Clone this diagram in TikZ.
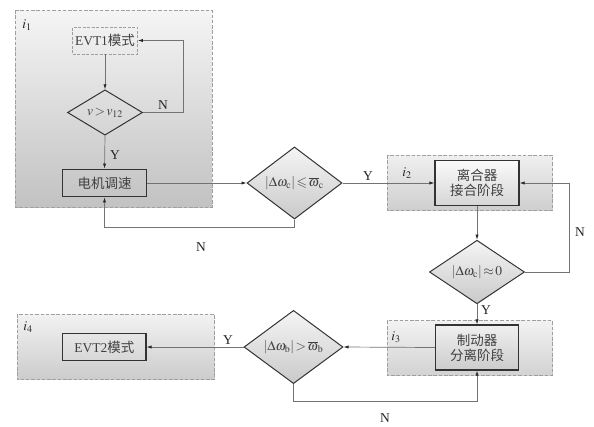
\documentclass[tikz,border=0pt]{standalone}
\usepackage{mathptmx}
\usepackage{amssymb}
\usepackage{fontspec}
\setmainfont{Liberation Serif}
\newfontfamily\cjk{Noto Sans CJK SC}
\usetikzlibrary{shapes.geometric,arrows.meta}
\definecolor{txt}{gray}{0.25}
\definecolor{lnc}{gray}{0.45}
\tikzset{
  every node/.style={font=\fontsize{13.5}{16}\selectfont},
  grp/.style={draw=gray!75, line width=0.8pt, dash pattern=on 3.5pt off 1.8pt},
  procbox/.style={draw=black!80, line width=1.2pt, inner sep=0pt, text=txt, align=center},
  dashbox/.style={draw=gray!75, line width=0.8pt, dash pattern=on 3pt off 1.5pt, inner sep=0pt, text=txt},
  dec/.style={diamond, aspect=1, inner sep=0pt, draw=black!80, line width=1pt, text=txt},
  conn/.style={draw=lnc, line width=0.7pt, -{Latex[length=5pt,width=3.2pt,color=black!85]}},
  line/.style={draw=lnc, line width=0.7pt},
  lbl/.style={text=black!85, inner sep=0pt},
}
\begin{document}
\begin{tikzpicture}[x=1pt,y=-1pt]
\useasboundingbox (0,0) rectangle (594,426);
% group boxes
\path[grp, top color=gray!8, bottom color=gray!48] (15,10) rectangle (212,207);
\node[lbl] (i1) at (27,25) {$i_1$};
\path[grp, top color=gray!12, bottom color=gray!38] (387,155) rectangle (552.7,210);
\node[lbl] (i2) at (407,173) {$i_2$};
\path[grp, top color=gray!10, bottom color=gray!35] (387,320.7) rectangle (552.7,375);
\node[lbl] (i3) at (396,337) {$i_3$};
\path[grp, top color=gray!10, bottom color=gray!40] (17,314) rectangle (214.3,379.3);
\node[lbl] (i4) at (28,327) {$i_4$};
% nodes
\node[dashbox, minimum width=65pt, minimum height=27pt] (evt1) at (105,40.5) {EVT1{\cjk 模式}};
\node[dec, minimum width=75pt, minimum height=45pt] (d1) at (105,112.5) {$v\!>\!v_{12}$};
\node[procbox, minimum width=83.5pt, minimum height=27.5pt] (motor) at (104.5,183) {\cjk 电机调速};
\node[dec, top color=gray!8, bottom color=gray!42, minimum width=95pt, minimum height=56pt] (d2) at (294.5,183) {$\left|\Delta\omega_{\mathrm{c}}\right|\!\leqslant\!\overline{\omega}_{\mathrm{c}}$};
\node[procbox, top color=gray!4, bottom color=gray!32, minimum width=84pt, minimum height=44.3pt] (clutch) at (477,183) {\cjk 离合器\\[-1pt]\cjk 接合阶段};
\node[dec, top color=gray!8, bottom color=gray!42, minimum width=95pt, minimum height=49pt] (d3) at (477,272) {$\left|\Delta\omega_{\mathrm{c}}\right|\!\approx\!0$};
\node[procbox, top color=gray!12, bottom color=gray!40, minimum width=83.3pt, minimum height=45pt] (brake) at (477,347.5) {\cjk 制动器\\[-1pt]\cjk 分离阶段};
\node[dec, top color=gray!8, bottom color=gray!42, minimum width=99pt, minimum height=52pt] (d4) at (293.5,347) {$\left|\Delta\omega_{\mathrm{b}}\right|\!>\!\overline{\omega}_{\mathrm{b}}$};
\node[procbox, minimum width=83.3pt, minimum height=27.4pt] (evt2) at (104.3,347) {EVT2{\cjk 模式}};
% helper coordinates
\coordinate (c1) at (183.5,40.5);
\coordinate (c2) at (294.5,227.7);
\coordinate (c3) at (569.3,183);
\coordinate (c4) at (293.5,401.7);
% connectors
\draw[conn] (evt1.south) -- (d1.north);
\draw[conn] (d1.east) -| (c1) -- (evt1.east);
\draw[conn] (d1.south) -- (motor.north);
\draw[conn] (motor.east) -- (d2.west);
\draw[conn] (d2.south) -- (c2) -| (motor.south);
\draw[conn] (d2.east) -- (clutch.west);
\draw[conn] (clutch.south) -- (d3.north);
\draw[conn] (d3.east) -| (c3) -- (clutch.east);
\draw[conn] (d3.south) -- (brake.north);
\draw[conn] (brake.west) -- (d4.east);
\draw[conn] (d4.west) -- (evt2.east);
\draw[conn] (d4.south) -- (c4) -| (brake.south);
% labels
\node[lbl] (n1) at (163,105) {N};
\node[lbl] (y1) at (115,155) {Y};
\node[lbl] (y2) at (368,176) {Y};
\node[lbl] (n2) at (201,247) {N};
\node[lbl] (n3) at (580,232) {N};
\node[lbl] (y3) at (486,310) {Y};
\node[lbl] (y4) at (228,340) {Y};
\node[lbl] (n4) at (385,418) {N};
\end{tikzpicture}
\end{document}
